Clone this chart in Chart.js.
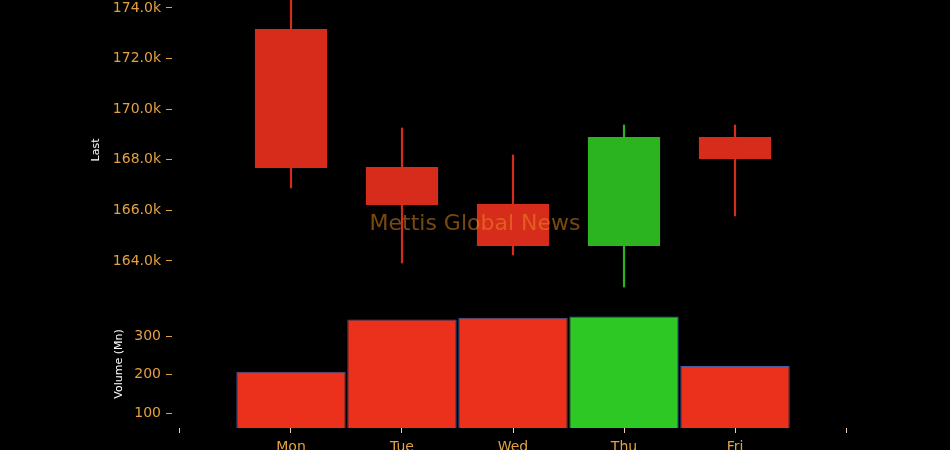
<!DOCTYPE html>
<html>
<head>
<meta charset="utf-8">
<script src="https://cdn.jsdelivr.net/npm/chart.js@4.4.0/dist/chart.umd.min.js"></script>
<style>
  html, body { margin: 0; padding: 0; background: #000; overflow: hidden; }
  #wrap { width: 950px; height: 450px; overflow: hidden; background: #000; }
</style>
</head>
<body>
<div id="wrap"><canvas id="chart" width="950" height="460"></canvas></div>
<script>
// Weekly candles (price) and volume in millions
const days = ['Mon', 'Tue', 'Wed', 'Thu', 'Fri'];
const openPx = [173170, 167715, 166253, 164593, 168901];
const closePx = [167676, 166213, 164593, 168901, 168032];
const highPx = [174600, 169257, 168190, 169375, 169375];
const lowPx = [166885, 163921, 164237, 162972, 165779];
const volume = [208, 344, 349, 352, 223];

const priceTicks = [164000, 166000, 168000, 170000, 172000, 174000];
const volumeTicks = [100, 200, 300];
const xTicks = [-1, 0, 1, 2, 3, 4, 5];

const ORANGE = '#e3a13f';
const FONT = 'DejaVu Sans';

const isUp = (i) => closePx[i] >= openPx[i];
const candleColors = days.map((d, i) => isUp(i) ? '#2bb320' : '#d72b1b');
const volumeColors = days.map((d, i) => isUp(i) ? '#2ec825' : '#eb301c');

// watermark text in the middle of the figure
const watermark = {
  id: 'watermark',
  afterDraw(chart) {
    const c = chart.ctx;
    c.save();
    c.font = `22px "${FONT}"`;
    c.fillStyle = 'rgba(235,145,35,0.5)';
    c.textAlign = 'center';
    c.textBaseline = 'middle';
    c.fillText('Mettis Global News', chart.width / 2, 224);
    c.restore();
  }
};

const noPad = (s) => { s.paddingTop = 0; s.paddingBottom = 0; s.paddingLeft = 0; s.paddingRight = 0; };

new Chart(document.getElementById('chart'), {
  type: 'bar',
  data: {
    datasets: [
      {
        label: 'wick',
        data: days.map((d, i) => ({ x: i, y: [lowPx[i], highPx[i]] })),
        yAxisID: 'y',
        backgroundColor: candleColors,
        barThickness: 1.5,
        grouped: false,
        order: 2
      },
      {
        label: 'body',
        data: days.map((d, i) => ({ x: i, y: [openPx[i], closePx[i]] })),
        yAxisID: 'y',
        backgroundColor: candleColors,
        barPercentage: 0.65,
        categoryPercentage: 1,
        grouped: false,
        order: 1
      },
      {
        label: 'Volume (Mn)',
        data: days.map((d, i) => ({ x: i, y: volume[i] })),
        yAxisID: 'y2',
        backgroundColor: volumeColors,
        borderColor: '#3f5fa0',
        borderWidth: 1,
        barPercentage: 0.985,
        categoryPercentage: 1,
        grouped: false,
        order: 3
      }
    ]
  },
  options: {
    responsive: false,
    animation: false,
    layout: { padding: { left: 0, right: 96, top: 0, bottom: 0 } },
    plugins: { legend: { display: false }, tooltip: { enabled: false } },
    scales: {
      x: {
        type: 'linear',
        min: -1.072,
        max: 5.072,
        offset: false,
        afterBuildTicks: (s) => { s.ticks = xTicks.map(v => ({ value: v })); },
        afterFit: (s) => { s.height = 32; noPad(s); },
        ticks: {
          color: ORANGE,
          font: { family: FONT, size: 14 },
          padding: 6,
          maxRotation: 0,
          autoSkip: false,
          callback: (v) => days[v] || ''
        },
        grid: { offset: false, drawOnChartArea: false, tickLength: 5, color: '#e8cdb8' },
        border: { display: false }
      },
      y: {
        type: 'linear',
        position: 'left',
        stack: 'panes',
        stackWeight: 300 / 128,
        weight: 1,
        min: 162458,
        max: 174316,
        afterBuildTicks: (s) => { s.ticks = priceTicks.map(v => ({ value: v })); },
        afterFit: (s) => { s.width = 172; noPad(s); },
        ticks: {
          color: ORANGE,
          font: { family: FONT, size: 14 },
          padding: 5,
          callback: (v) => (v / 1000).toFixed(1) + 'k'
        },
        grid: { drawOnChartArea: false, tickLength: 6, color: ORANGE },
        border: { display: false },
        title: {
          display: true,
          text: 'Last',
          color: '#ffffff',
          font: { family: FONT, size: 11 },
          padding: { top: 90, bottom: 0 }
        }
      },
      y2: {
        type: 'linear',
        position: 'left',
        stack: 'panes',
        stackWeight: 1,
        weight: 0,
        min: 61,
        max: 395,
        afterBuildTicks: (s) => { s.ticks = volumeTicks.map(v => ({ value: v })); },
        afterFit: (s) => { s.width = 172; noPad(s); },
        ticks: {
          color: ORANGE,
          font: { family: FONT, size: 14 },
          padding: 5
        },
        grid: { drawOnChartArea: false, tickLength: 6, color: ORANGE },
        border: { display: false },
        title: {
          display: true,
          text: 'Volume (Mn)',
          color: '#ffffff',
          font: { family: FONT, size: 11 },
          padding: { top: 113, bottom: 0 }
        }
      }
    }
  },
  plugins: [watermark]
});
</script>
</body>
</html>
